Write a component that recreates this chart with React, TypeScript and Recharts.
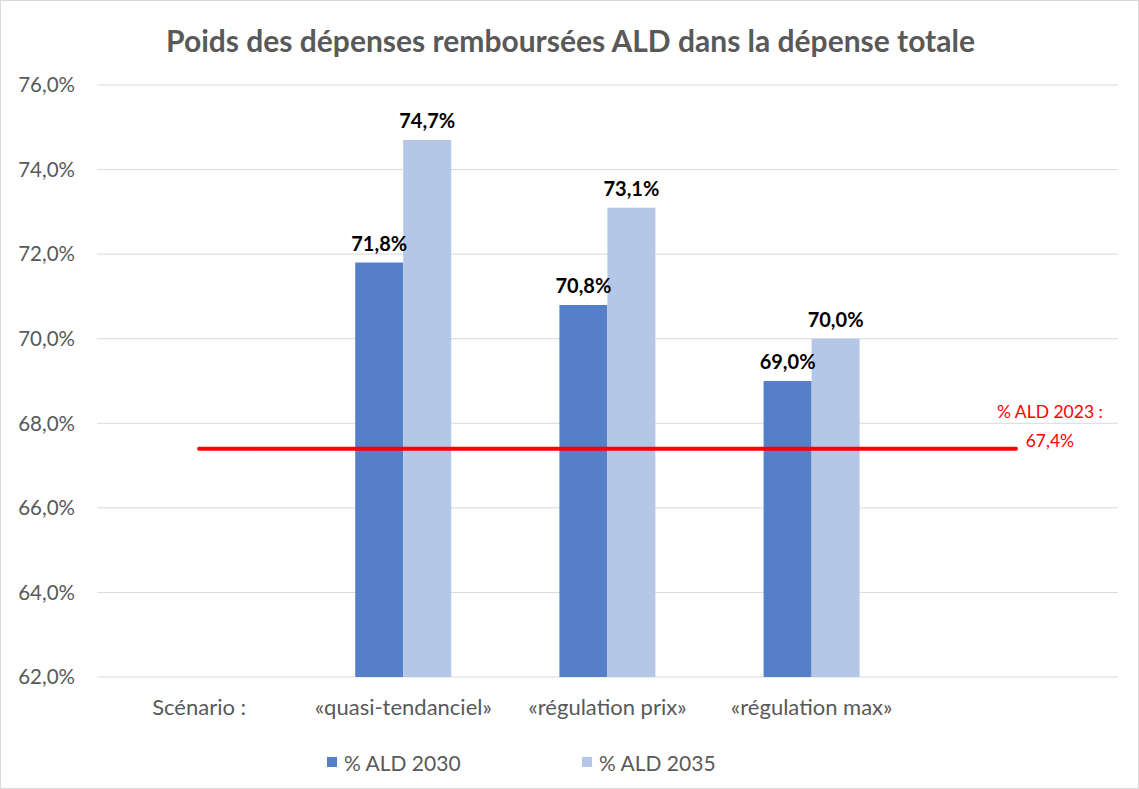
import React from "react";
import {
  ComposedChart,
  Bar,
  Line,
  XAxis,
  YAxis,
  CartesianGrid,
  LabelList,
  Legend,
} from "recharts";

const categories = ["Scénario :", "«quasi-tendanciel»", "«régulation prix»", "«régulation max»", ""];
const ald2030 = [null, 71.8, 70.8, 69.0, null];
const ald2035 = [null, 74.7, 73.1, 70.0, null];
const ald2023 = [67.4, 67.4, 67.4, 67.4, 67.4];
const yTicks = [62, 64, 66, 68, 70, 72, 74, 76];
const seriesNames = ["% ALD 2030", "% ALD 2035"];
const refLabelLines = ["% ALD 2023 :", "67,4%"];

const data = categories.map((c, i) => ({
  name: c,
  a2030: ald2030[i],
  a2035: ald2035[i],
  a2023: ald2023[i],
}));

const FONT = "Lato, 'Open Sans', sans-serif";
const C1 = "#5580C8";
const C2 = "#B4C7E7";
const GRAY = "#595959";

const fmt = (v: any) => (v == null ? "" : Number(v).toFixed(1).replace(".", ",") + "%");

const RefLabel = (props: any) => {
  const { x, y, index } = props;
  if (index !== data.length - 1) return null;
  return (
    <g>
      <text x={x + 34} y={y - 37} textAnchor="middle" dominantBaseline="central" fill="#FF0000" fontSize={17.5} fontFamily={FONT}>
        {refLabelLines[0]}
      </text>
      <text x={x + 34} y={y - 8} textAnchor="middle" dominantBaseline="central" fill="#FF0000" fontSize={17.5} fontFamily={FONT}>
        {refLabelLines[1]}
      </text>
    </g>
  );
};

const LegendContent = () => {
  const colors = [C1, C2];
  return (
    <div style={{ display: "flex", justifyContent: "flex-start", paddingLeft: 327, height: 40, alignItems: "center", fontFamily: FONT, fontSize: 21, color: GRAY }}>
      {seriesNames.map((n, i) => (
        <div key={n} style={{ display: "flex", alignItems: "center", width: 255 }}>
          <span style={{ display: "inline-block", width: 10, height: 10, background: colors[i], marginRight: 7 }} />
          <span>{n}</span>
        </div>
      ))}
    </div>
  );
};

export default function App() {
  return (
    <div style={{ position: "absolute", left: 0, top: 0, width: 1139, height: 789, background: "#fff", border: "1px solid #d9d9d9", boxSizing: "border-box" }}>
      <div style={{ position: "absolute", left: 0, top: 21, width: 1139, textAlign: "center", fontFamily: FONT, fontWeight: 700, fontSize: 30, color: GRAY }}>
        Poids des dépenses remboursées ALD dans la dépense totale
      </div>
      <div style={{ position: "absolute", left: -1, top: -1 }}>
        <ComposedChart
          width={1139}
          height={789}
          data={data}
          margin={{ top: 85, right: 21, left: 0, bottom: 7 }}
          barGap={0}
        >
          <CartesianGrid vertical={false} stroke="#d9d9d9" strokeWidth={1} />
          <XAxis
            dataKey="name"
            axisLine={false}
            tickLine={false}
            tickSize={0}
            tickMargin={22}
            height={65}
            interval={0}
            tick={{ fill: GRAY, fontSize: 22, fontFamily: FONT }}
          />
          <YAxis
            domain={[62, 76]}
            ticks={yTicks}
            width={97}
            axisLine={false}
            tickLine={false}
            tickSize={0}
            tickMargin={22}
            tickFormatter={fmt}
            tick={{ fill: GRAY, fontSize: 20.5, fontFamily: FONT }}
            allowDataOverflow
          />
          <Bar dataKey="a2030" name={seriesNames[0]} fill={C1} barSize={48} isAnimationActive={false}>
            <LabelList dataKey="a2030" position="top" offset={12} formatter={fmt} fill="#000" fontSize={20} fontWeight={700} fontFamily={FONT} />
          </Bar>
          <Bar dataKey="a2035" name={seriesNames[1]} fill={C2} barSize={48} isAnimationActive={false}>
            <LabelList dataKey="a2035" position="top" offset={12} formatter={fmt} fill="#000" fontSize={20} fontWeight={700} fontFamily={FONT} />
          </Bar>
          <Line
            dataKey="a2023"
            stroke="#FF0000"
            strokeWidth={4}
            strokeLinecap="round"
            dot={false}
            activeDot={false}
            legendType="none"
            isAnimationActive={false}
          >
            <LabelList dataKey="a2023" content={RefLabel} />
          </Line>
          <Legend verticalAlign="bottom" height={40} content={LegendContent} />
        </ComposedChart>
      </div>
    </div>
  );
}
